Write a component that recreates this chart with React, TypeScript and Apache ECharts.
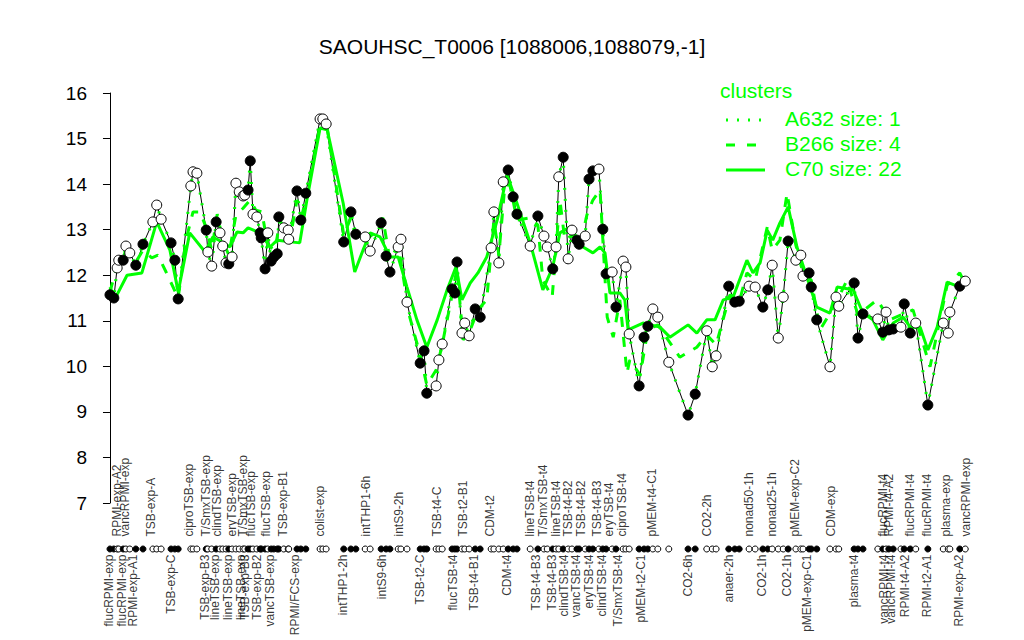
import React, { useEffect, useRef } from "react";
import * as echarts from "echarts";

// Measurement positions (ordering axis) and log-expression values
const POS = [0.0,0.7,1.3,1.6,2.4,2.9,3.6,4.7,6.0,7.8,8.5,9.3,11.1,11.8,12.4,14.7,15.1,15.8,17.5,17.8,18.5,19.3,20.0,20.5,21.1,21.6,22.2,22.9,23.5,24.2,24.5,25.1,25.5,26.0,26.7,27.3,27.5,28.2,28.7,29.3,29.8,30.4,30.7,31.6,32.4,32.5,34.0,34.7,35.6,38.2,38.7,39.3,
42.5,43.8,44.7,46.4,47.3,49.3,50.2,50.9,52.4,52.9,54.0,56.4,57.1,57.6,59.3,59.8,60.4,62.2,62.7,63.1,64.0,64.5,65.3,66.4,67.3,69.3,69.8,70.7,71.5,72.4,73.3,74.0,76.4,77.8,78.9,79.5,80.5,81.1,81.6,82.4,83.3,84.0,84.9,85.3,86.4,87.1,87.8,88.9,89.6,90.2,91.3,92.0,93.3,93.8,94.4,96.2,97.1,97.8,98.7,99.6,
101.6,105.1,106.4,108.5,109.5,110.2,112.5,113.6,114.4,116.2,117.3,118.7,119.6,120.4,121.5,122.4,123.3,124.7,125.6,126.0,127.1,127.5,128.5,130.9,132.0,132.5,135.3,136.0,136.9,139.6,140.5,141.1,141.6,142.4,143.8,144.4,145.5,146.5,148.7,151.5,152.4,152.7,154.5,155.5];

const VALUES = [11.57,11.50,12.16,12.33,12.33,12.64,12.49,12.22,12.68,13.17,13.54,13.23,12.71,12.33,11.48,13.96,14.27,14.24,12.99,12.51,12.20,13.17,12.93,12.64,12.27,12.25,12.40,14.02,13.83,13.74,13.76,13.87,14.51,13.34,13.28,12.93,12.82,12.14,12.93,12.31,12.40,12.47,13.28,13.04,12.99,12.79,13.85,13.21,13.80,15.43,15.43,15.32,
12.73,13.39,12.90,12.84,12.53,13.15,12.42,12.07,12.62,12.79,11.41,10.07,10.34,9.41,9.57,10.14,10.49,11.70,11.61,12.29,10.73,10.95,10.67,11.26,11.08,12.60,13.39,12.27,14.05,14.31,13.72,13.34,12.64,13.30,12.86,12.62,12.14,12.62,14.16,14.59,12.36,12.99,12.77,12.68,12.86,14.11,14.29,14.33,13.01,12.03,12.07,11.30,12.31,12.18,10.71,9.57,10.64,10.88,11.26,11.08,
10.09,8.93,9.39,10.78,9.99,10.23,11.76,11.41,11.43,11.76,11.74,11.30,11.68,12.22,10.62,11.52,12.75,12.33,12.44,11.98,12.05,11.74,11.02,9.99,11.52,11.32,11.83,10.62,11.15,11.04,10.75,11.19,10.80,10.82,10.86,11.37,10.73,10.95,9.15,10.95,10.73,11.19,11.76,11.87];

// 1 = filled (black) point, 0 = open (white) point
const FILLED = [1,1,0,0,1,0,0,1,1,0,0,0,1,1,1,0,0,0,1,0,0,1,0,0,0,1,0,0,0,0,0,1,1,0,0,1,1,1,0,1,1,1,1,0,0,0,1,1,1,0,0,0,
1,1,1,0,0,1,1,1,0,0,0,1,1,1,0,0,0,1,1,1,0,0,0,1,1,0,0,0,0,1,1,1,0,1,0,0,1,0,0,1,0,0,1,1,0,1,1,0,1,1,0,1,0,0,0,1,1,1,0,0,
0,1,1,0,0,0,1,1,1,0,0,1,1,0,0,0,1,0,0,0,1,1,1,0,0,0,1,1,1,0,1,0,1,1,0,1,1,0,1,0,0,0,1,0];

// Cluster C70 (solid)
const C70_POS = [0,0.9,3.1,5.8,8.5,10.9,12.4,14.5,17.3,18.7,20.4,21.8,23.1,24.2,25.1,27.3,29.1,30.4,34.5,35.8,38.2,39.5,42.4,44.5,46,47.3,49.1,50.9,52.4,54,55.8,57.6,59.5,61.3,62.9,64,65.5,66.9,68.5,70.4,72.2,74,76.4,78.7,80.5,81.8,83.6,86,87.8,89.1,90,90.9,92.7,93.6,94.2,96.9,100,101.8,105.1,106.7,108.5,110,111.5,113.3,115.8,116.9,118.2,119.5,120.5,121.8,123.3,124.9,127.3,128.5,130.9,132.2,135.1,136.9,138.7,140.5,142.4,144.2,145.5,147.3,148.7,150.4,152.2,154.5];
const C70_VAL = [11.74,11.48,12.0,12.05,13.17,12.55,11.63,12.93,12.51,12.84,12.73,12.62,12.95,12.93,13.04,12.93,12.62,12.77,12.71,13.65,15.23,15.19,13.58,12.07,12.55,12.93,12.84,12.40,12.40,11.74,11.02,10.42,11.02,11.68,12.18,11.46,11.83,12.05,12.40,13.21,14.20,13.58,12.71,11.68,12.18,12.93,13.06,12.62,12.49,12.62,12.49,11.61,11.61,11.46,10.80,10.95,10.86,10.64,10.91,10.73,11.02,11.02,11.46,11.52,12.33,12.05,12.27,12.99,12.77,13.15,13.50,12.62,11.74,11.30,11.17,11.74,11.68,11.17,11.02,10.58,10.95,11.08,10.86,10.86,10.36,10.86,11.85,11.74];

// Cluster B266 (dashed)
const B266_POS = [0,1.3,2.9,4.7,6.0,7.6,8.7,10.2,12.4,13.8,15.1,16.4,17.5,18.5,19.5,20.5,21.6,22.9,24.2,25.5,26.5,27.6,28.7,30.0,30.9,32.7,34.0,34.9,35.8,38.2,39.5,42.5,43.8,44.7,46.4,47.6,49.6,50.9,52.4,54.5,56.4,57.6,59.3,60.4,62.2,63.1,64.2,65.5,66.9,68.5,69.8,70.7,71.8,72.7,74.0,76.4,77.8,78.7,80.4,81.8,82.7,84.0,85.5,86.7,87.8,89.1,90.4,91.5,92.7,94.0,94.5,96.4,97.8,99.6,103.6,106.7,108.5,110.2,112.7,114.5,115.8,117.3,119.5,120.4,121.8,123.1,124.7,126.0,127.5,129.1,131.8,134.0,136.0,139.5,141.8,146.0,149.1,152.2,154.5,155.6];
const B266_VAL = [11.63,12.22,12.51,12.29,12.55,12.38,12.44,12.07,11.50,12.77,13.39,13.39,13.04,12.55,13.34,12.77,12.44,13.32,13.47,13.65,13.43,13.39,12.66,12.55,13.21,12.77,13.65,13.32,13.76,15.30,15.23,12.88,13.26,12.82,12.77,12.88,13.26,12.33,12.66,11.08,10.25,9.59,9.92,10.47,11.57,12.16,10.58,10.80,11.24,11.46,13.21,12.44,13.98,13.98,13.21,13.26,13.10,11.89,11.52,13.65,12.77,12.88,12.66,13.32,13.65,13.87,11.08,10.64,11.46,9.85,10.14,9.81,10.80,10.91,10.20,10.42,10.69,10.47,11.57,11.46,12.05,11.89,13.06,12.55,12.77,13.80,12.66,12.05,11.89,10.80,11.35,11.89,11.13,11.46,11.02,11.24,9.99,11.78,12.05,11.78];

// Condition labels
const TOP_LABELS = ["RPMI-exp-A2","vancRPMI-exp","TSB-exp-A","ciproTSB-exp","T/SmxTSB-exp","clindTSB-exp","eryTSB-exp","T/SmxTSB-exp","flucTSB-exp","flucTSB-exp","TSB-exp-B1","colist-exp","intTHP1-6h","intS9-2h","TSB-t4-C","TSB-t2-B1","CDM-t2","lineTSB-t4","T/SmxTSB-t4","lineTSB-t4","TSB-t4-B2","TSB-t4-B2","TSB-t4-B3","eryTSB-t4","ciproTSB-t4","pMEM-t4-C1","CO2-2h","nonad50-1h","nonad25-1h","pMEM-exp-C2","CDM-exp","flucRPMI-t4","RPMI-t4-A2","flucRPMI-t4","flucRPMI-t4","plasma-exp","vancRPMI-exp"];
const TOP_POS = [1.3,2.9,7.6,14.5,17.6,19.6,22.2,24.2,25.8,28.5,31.5,38.2,46.7,52.7,59.5,64.2,69.1,76.4,78.9,81.1,83.3,85.8,88.7,90.9,93.1,98.7,108.7,116.2,120.5,124.7,131.1,140.7,141.8,145.6,148.7,152.0,155.8];
const BOTTOM_LABELS = ["flucRPMI-exp","flucRPMI-exp","RPMI-exp-A1","TSB-exp-C","TSB-exp-B3","lineTSB-exp","lineTSB-exp","lineTSB-exp","TSB-exp-B3","TSB-exp-B2","vancTSB-exp","RPMI/FCS-exp","intTHP1-2h","intS9-6h","TSB-t2-C","flucTSB-t4","TSB-t4-B1","CDM-t4","TSB-t4-B3","TSB-t4-B3","clindTSB-t4","vancTSB-t4","eryTSB-t4","clindTSB-t4","T/SmxTSB-t4","pMEM-t2-C1","CO2-6h","anaer-2h","CO2-1h","CO2-1h","pMEM-exp-C1","plasma-t4","vancRPMI-t4","vancRPMI-t4","RPMI-t4-A2","RPMI-t2-A1","RPMI-exp-A2"];
const BOTTOM_POS = [0,2.2,4.2,11.1,17.3,19.1,21.6,24.0,24.7,26.9,29.1,33.8,42.5,49.6,56.4,62.5,66.2,72.2,77.6,80.5,82.7,84.9,87.1,89.6,92.4,96.7,105.1,112.7,118.7,123.1,126.9,135.3,140.9,142.0,144.7,148.7,154.5];

const LEGEND_ITEMS = ["A632 size: 1", "B266 size: 4", "C70 size: 22"];

export default function App() {
  const ref = useRef<HTMLDivElement>(null);
  useEffect(() => {
    if (!ref.current) return;
    const chart = echarts.init(ref.current, null, { renderer: "svg" });
    const GREEN = "#00ff00";
    const FONT = "'Liberation Sans', Arial, Helvetica, sans-serif";
    const XMIN = -2.36;
    const XMAX = 158.18;
    const DOT_ROW = 109;
    const TOP_ANCHOR = 97;
    const BOTTOM_ANCHOR = 115;
    const LABEL_SIZE = 12;

    const pts = POS.map((p, i) => [p, VALUES[i]]);

    const labelSeries = (positions: number[], names: string[], anchor: number, align: string) => ({
      type: "scatter",
      xAxisIndex: 1,
      yAxisIndex: 1,
      data: positions.map((p, i) => [p, anchor, names[i]]),
      symbolSize: 1,
      itemStyle: { color: "rgba(0,0,0,0)" },
      labelLayout: { hideOverlap: false, moveOverlap: false },
      label: {
        show: true,
        position: [0, 0],
        rotate: 90,
        align,
        verticalAlign: "middle",
        formatter: (p: any) => p.data[2],
        fontSize: LABEL_SIZE,
        fontFamily: FONT,
        color: "#000",
      },
      z: 4,
    });

    const option: any = {
      animation: false,
      title: {
        text: "SAOUHSC_T0006 [1088006,1088079,-1]",
        left: "center",
        top: 31,
        textStyle: { fontSize: 21, fontWeight: "normal", fontFamily: FONT, color: "#000" },
      },
      grid: [
        { left: 97, right: 44, top: 93, height: 410 },
        { left: 97, right: 44, top: 440, height: 200 },
      ],
      xAxis: [
        { type: "value", gridIndex: 0, min: XMIN, max: XMAX, show: false },
        { type: "value", gridIndex: 1, min: XMIN, max: XMAX, show: false },
      ],
      yAxis: [
        {
          type: "value",
          gridIndex: 0,
          min: 7,
          max: 16,
          interval: 1,
          axisLine: { show: true, lineStyle: { color: "#000", width: 1 } },
          axisTick: { show: true, length: 7, lineStyle: { color: "#000", width: 1 } },
          axisLabel: { color: "#000", fontSize: 19, fontFamily: FONT, margin: 10 },
          splitLine: { show: false },
        },
        { type: "value", gridIndex: 1, min: 0, max: 200, inverse: true, show: false },
      ],
      graphic: [
        { type: "text", left: 720, top: 80, style: { text: "clusters", fill: GREEN, fontSize: 21, fontFamily: FONT } },
        { type: "line", shape: { x1: 726, y1: 120, x2: 762, y2: 120 }, style: { stroke: GREEN, lineWidth: 3, lineDash: [2, 9] } },
        { type: "line", shape: { x1: 726, y1: 145, x2: 757, y2: 145 }, style: { stroke: GREEN, lineWidth: 3, lineDash: [9, 12] } },
        { type: "line", shape: { x1: 726, y1: 170, x2: 765, y2: 170 }, style: { stroke: GREEN, lineWidth: 3 } },
        ...LEGEND_ITEMS.map((t, i) => ({
          type: "text",
          left: 785,
          top: 108 + i * 25,
          style: { text: t, fill: GREEN, fontSize: 21, fontFamily: FONT },
        })),
      ],
      series: [
        {
          type: "line",
          data: pts,
          symbol: "none",
          lineStyle: { color: "#000", width: 1 },
          z: 2,
        },
        {
          type: "line",
          data: pts,
          symbol: "none",
          lineStyle: { color: GREEN, width: 3, type: [2, 9] },
          z: 3,
        },
        {
          type: "line",
          data: B266_POS.map((p, i) => [p, B266_VAL[i]]),
          symbol: "none",
          lineStyle: { color: GREEN, width: 3, type: [10, 10] },
          z: 3,
        },
        {
          type: "line",
          data: C70_POS.map((p, i) => [p, C70_VAL[i]]),
          symbol: "none",
          lineStyle: { color: GREEN, width: 3 },
          z: 3,
        },
        {
          type: "scatter",
          data: pts.map((d, i) => ({
            value: d,
            itemStyle: { color: FILLED[i] ? "#000" : "#fff" },
          })),
          symbol: "circle",
          symbolSize: 10,
          itemStyle: { borderColor: "#000", borderWidth: 1, opacity: 1 },
          z: 5,
        },
        {
          type: "scatter",
          xAxisIndex: 1,
          yAxisIndex: 1,
          data: POS.map((p, i) => ({
            value: [p, DOT_ROW],
            itemStyle: { color: FILLED[i] ? "#000" : "#fff" },
          })),
          symbol: "circle",
          symbolSize: 6,
          itemStyle: { borderColor: "#000", borderWidth: 1, opacity: 1 },
          z: 5,
        },
        labelSeries(TOP_POS, TOP_LABELS, TOP_ANCHOR, "left"),
        labelSeries(BOTTOM_POS, BOTTOM_LABELS, BOTTOM_ANCHOR, "right"),
      ],
    };
    chart.setOption(option);
    return () => chart.dispose();
  }, []);
  return (
    <div
      ref={ref}
      style={{ position: "absolute", left: 0, top: 0, width: 1024, height: 640, background: "#fff" }}
    />
  );
}
